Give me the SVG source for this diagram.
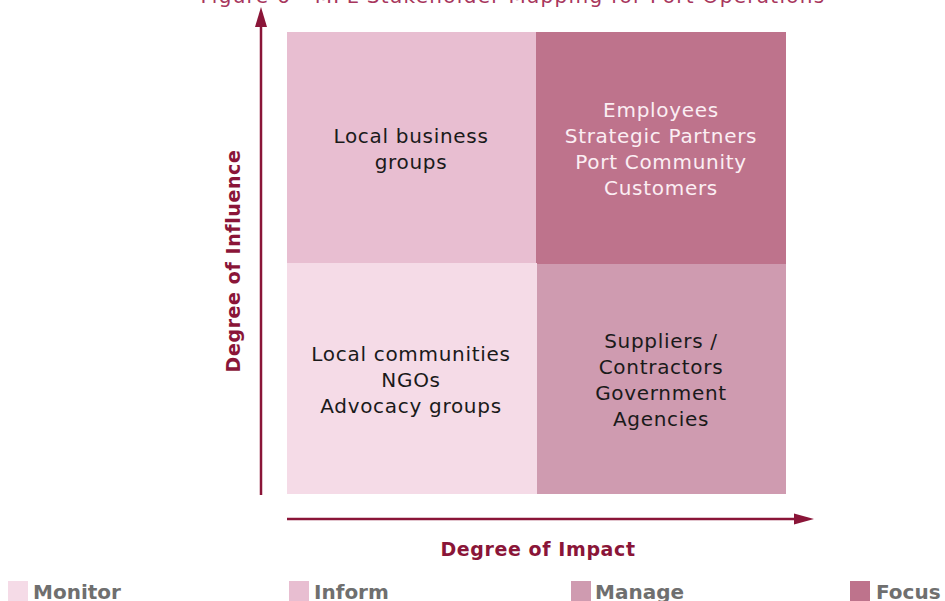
<svg xmlns="http://www.w3.org/2000/svg" width="945" height="601" viewBox="0 0 945 601">
<defs>
<style>
.q{font-family:"DejaVu Sans","Open Sans",sans-serif;font-size:20px;letter-spacing:0.7px;text-anchor:middle;fill:#1a1a1a}
.qw{fill:#fbeef3}
.ax{font-family:"DejaVu Sans","Open Sans",sans-serif;font-size:19px;letter-spacing:0.6px;font-weight:bold;fill:#8a1538;text-anchor:middle}
.lg{font-family:"DejaVu Sans","Open Sans",sans-serif;font-size:20px;font-weight:bold;fill:#6f6f6f}
.axis{stroke:#8a1538;stroke-width:2.5;fill:none}
</style>
</defs>
<rect width="945" height="601" fill="#ffffff"/>
<text x="513" y="3" style="font-family:'DejaVu Sans','Open Sans',sans-serif;font-size:20px;letter-spacing:1.3px;fill:#a8365d" text-anchor="middle">Figure 6 - MPL Stakeholder Mapping for Port Operations</text>

<g id="inform">
<rect x="287" y="32" width="249" height="231" fill="#e8bed1"/>
<text class="q" x="411" y="143">Local business</text>
<text class="q" x="411" y="169">groups</text>
</g>
<g id="focus">
<rect x="536" y="32" width="250" height="232" fill="#be738c"/>
<text class="q qw" x="661" y="117">Employees</text>
<text class="q qw" x="661" y="143">Strategic Partners</text>
<text class="q qw" x="661" y="169">Port Community</text>
<text class="q qw" x="661" y="195">Customers</text>
</g>
<g id="monitor">
<rect x="287" y="263" width="250" height="231" fill="#f5dbe7"/>
<text class="q" x="411" y="361">Local communities</text>
<text class="q" x="411" y="387">NGOs</text>
<text class="q" x="411" y="413">Advocacy groups</text>
</g>
<g id="manage">
<rect x="537" y="264" width="249" height="230" fill="#cf9bb0"/>
<text class="q" x="661" y="348">Suppliers /</text>
<text class="q" x="661" y="374">Contractors</text>
<text class="q" x="661" y="400">Government</text>
<text class="q" x="661" y="426">Agencies</text>
</g>

<g id="connectors">
<line class="axis" x1="261" y1="495" x2="261" y2="26"/>
<path d="M255,27 L261,7 L267,27 Z" fill="#8a1538"/>
<line class="axis" x1="287" y1="519" x2="795" y2="519"/>
<path d="M794,513.5 L814,519 L794,524.5 Z" fill="#8a1538"/>
</g>
<g id="axis-labels">
<text class="ax" transform="translate(240,261) rotate(-90)">Degree of Influence</text>
<text class="ax" x="538" y="556">Degree of Impact</text>
</g>

<g id="legend">
<rect x="8" y="581" width="20" height="22" fill="#f5dbe7"/>
<text class="lg" x="33" y="599">Monitor</text>
<rect x="289" y="581" width="20" height="22" fill="#e8bed1"/>
<text class="lg" x="314" y="599">Inform</text>
<rect x="571" y="581" width="20" height="22" fill="#cf9bb0"/>
<text class="lg" x="595" y="599">Manage</text>
<rect x="850" y="581" width="20" height="22" fill="#be738c"/>
<text class="lg" x="876" y="599">Focus</text>
</g>
</svg>
